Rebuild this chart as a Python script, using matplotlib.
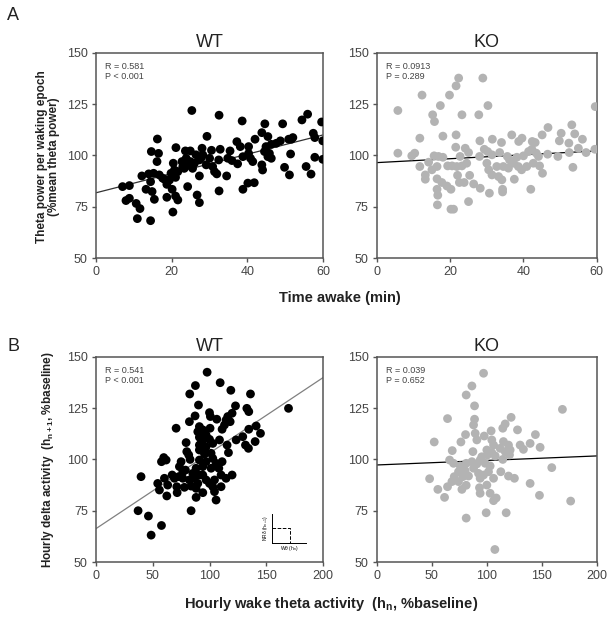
import numpy as np
import matplotlib
matplotlib.use("Agg")
import matplotlib.pyplot as plt

plt.rcParams['font.family'] = ['Liberation Sans', 'DejaVu Sans']
plt.rcParams['mathtext.default'] = 'regular'

# --- panel A, WT: time awake (min) vs theta power (% mean) ---
wt_a_x = [25.3, 32.5, 38.6, 44.6, 49.3, 54.4, 55.9, 59.6, 16.2, 29.3, 43.8, 45.4, 57.4, 57.8, 59.9,
          52.0, 50.9, 48.7, 46.3, 37.2, 38.1, 40.3, 42.0, 14.6, 16.5, 21.1, 23.6, 24.9, 28.0, 30.5,
          32.8, 35.4, 26.4, 28.2, 23.8, 22.7, 20.4, 16.1, 24.9, 27.3, 29.1, 30.8, 32.4, 34.8, 37.4,
          40.8, 41.4, 43.8, 44.0, 44.5, 45.4, 46.3, 51.4, 49.8, 51.1, 55.5, 56.8, 57.8, 59.9, 12.1,
          13.9, 15.2, 16.7, 18.1, 19.4, 21.0, 21.6, 23.3, 25.5, 27.3, 31.3, 31.9, 34.5, 38.8, 40.1,
          41.8, 7.0, 8.8, 14.4, 13.2, 14.8, 18.7, 20.1, 24.2, 21.0, 21.6, 18.7, 15.4, 26.7, 27.3,
          32.5, 7.9, 8.8, 10.6, 11.6, 10.9, 14.4, 20.3, 22.9, 24.2, 26.0, 27.7, 30.0, 19.8, 20.7,
          17.6, 35.9, 38.8, 40.3, 44.9, 45.8, 47.6, 51.6]
wt_a_y = [121.9, 119.6, 116.8, 115.4, 115.4, 117.3, 120.1, 116.3, 108.0, 109.3, 111.1, 109.2, 110.8, 108.7, 107.1,
          108.7, 107.9, 107.1, 105.4, 106.7, 104.3, 104.3, 107.9, 101.9, 101.0, 103.8, 102.2, 102.2, 103.5, 102.5,
          103.0, 102.2, 100.3, 100.3, 98.6, 97.0, 96.2, 97.0, 97.0, 97.8, 95.4, 94.6, 97.8, 98.6, 95.9,
          98.6, 97.0, 95.4, 92.9, 101.9, 99.4, 98.6, 100.7, 94.2, 90.5, 94.6, 90.9, 99.1, 98.1, 90.0,
          91.0, 91.3, 90.5, 88.4, 88.0, 89.3, 92.1, 93.7, 93.7, 90.0, 92.1, 91.0, 90.0, 83.5, 86.5,
          86.7, 84.8, 85.3, 87.2, 83.5, 82.4, 85.9, 83.5, 84.8, 80.2, 78.3, 79.6, 78.6, 80.7, 77.0,
          82.7, 78.0, 79.1, 76.6, 74.1, 69.2, 68.2, 72.4, 94.5, 95.4, 96.2, 98.6, 98.6, 91.3, 92.9,
          88.9, 97.5, 99.4, 101.0, 104.3, 101.0, 105.9, 107.9]

# --- panel A, KO ---
ko_a_x = [22.3, 28.9, 21.6, 12.3, 19.8, 17.3, 30.3, 5.7, 15.2, 15.7, 23.2, 27.8, 59.6, 53.2, 46.7,
          50.3, 54.0, 56.1, 11.7, 18.0, 21.6, 21.5, 24.1, 25.0, 28.1, 31.5, 34.0, 36.8, 39.6, 38.7,
          42.4, 43.2, 45.1, 49.8, 52.4, 55.0, 5.7, 9.5, 10.3, 15.6, 16.8, 18.0, 22.7, 28.0, 29.3,
          30.2, 31.4, 33.5, 35.6, 36.2, 38.2, 40.0, 41.4, 42.3, 43.5, 44.1, 46.6, 49.4, 52.5, 57.1,
          59.5, 11.7, 15.0, 16.4, 13.2, 13.2, 16.4, 17.7, 19.3, 20.5, 21.8, 23.2, 24.5, 22.0, 25.3,
          22.5, 23.8, 26.4, 16.4, 16.6, 19.1, 20.2, 28.2, 30.7, 34.3, 34.3, 37.5, 42.0, 45.2, 53.5,
          30.0, 30.5, 31.4, 32.7, 33.2, 34.1, 34.5, 35.9, 37.3, 38.6, 39.5, 40.9, 42.7, 44.4, 16.5,
          20.2, 20.9, 25.0, 14.1]
ko_a_y = [137.7, 137.7, 133.9, 129.4, 129.4, 124.3, 124.3, 121.9, 119.8, 116.5, 119.8, 119.8, 123.8, 114.9, 113.6,
          110.8, 110.5, 107.9, 108.4, 109.4, 110.0, 104.0, 103.5, 101.4, 107.1, 107.9, 106.3, 110.0, 108.4, 106.8,
          106.8, 106.3, 110.0, 107.1, 106.0, 103.5, 101.1, 99.8, 101.1, 99.8, 99.5, 99.1, 99.5, 99.5, 103.0,
          101.9, 100.3, 101.4, 99.5, 97.8, 99.1, 99.8, 101.9, 103.0, 101.1, 99.5, 100.6, 99.5, 101.4, 101.4,
          103.0, 94.6, 93.0, 94.6, 90.5, 88.4, 88.6, 86.8, 94.9, 94.9, 94.6, 94.9, 96.2, 90.3, 90.3,
          86.8, 86.8, 86.1, 83.5, 80.6, 85.1, 83.5, 84.0, 81.6, 83.5, 82.2, 88.4, 83.5, 91.3, 94.2,
          96.2, 93.0, 90.5, 94.6, 89.7, 88.1, 94.6, 93.8, 96.2, 94.6, 93.0, 94.6, 96.2, 94.9, 75.9,
          73.8, 73.8, 77.5, 96.7]

# --- panel B, WT: hourly wake theta (h_n) vs delta (h_n+1), % baseline ---
wt_b_x = [97.8, 87.5, 109.3, 82.5, 118.7, 136.0, 90.2, 122.8, 132.8, 134.5, 169.5, 99.9, 100.7, 87.2, 82.2,
          106.3, 114.5, 119.8, 116.0, 118.1, 113.1, 70.5, 91.0, 94.0, 100.4, 89.6, 111.0, 134.5, 141.0, 144.8,
          96.9, 91.0, 94.0, 99.9, 102.8, 108.7, 123.4, 129.2, 140.1, 131.6, 134.2, 79.3, 91.0, 96.9, 115.4,
          116.6, 79.9, 81.6, 91.0, 95.5, 101.3, 102.8, 59.6, 61.7, 57.6, 74.9, 82.8, 91.0, 96.9, 105.7,
          111.0, 73.4, 78.7, 88.1, 94.0, 101.3, 108.1, 110.1, 119.8, 39.6, 54.3, 60.2, 67.0, 69.0, 72.8,
          76.4, 82.2, 86.6, 89.6, 94.0, 96.9, 99.9, 104.3, 114.5, 55.8, 63.1, 71.1, 77.8, 83.7, 88.1,
          94.0, 102.8, 110.1, 62.3, 71.4, 88.1, 104.3, 105.7, 37.0, 83.7, 46.1, 57.6, 48.5, 92.5, 95.5,
          85.2, 91.0, 76.4]
wt_b_y = [142.5, 136.0, 137.4, 131.9, 133.7, 131.9, 126.5, 126.1, 124.9, 123.3, 124.9, 122.8, 120.9, 121.2, 118.4,
          119.6, 119.2, 122.5, 120.9, 118.4, 116.8, 115.2, 116.0, 114.4, 115.2, 113.5, 114.7, 114.7, 116.3, 112.7,
          111.9, 110.8, 109.5, 109.8, 107.8, 109.5, 109.5, 111.1, 108.7, 107.0, 105.4, 108.2, 107.0, 106.2, 107.0,
          103.3, 103.8, 102.2, 104.6, 102.6, 103.0, 100.5, 100.9, 99.7, 98.9, 98.9, 100.0, 99.7, 98.9, 98.1,
          98.9, 96.5, 94.8, 95.7, 96.5, 95.7, 95.7, 92.4, 92.4, 91.6, 88.3, 90.8, 92.4, 90.8, 91.6,
          90.8, 90.0, 90.8, 88.3, 92.4, 90.0, 88.3, 90.0, 90.8, 85.1, 87.5, 86.7, 86.4, 87.0, 85.9,
          83.8, 86.7, 86.7, 82.2, 83.8, 81.5, 84.3, 80.2, 75.0, 75.0, 72.4, 67.8, 63.1, 107.8, 104.6,
          93.2, 92.4, 94.0]

# --- panel B, KO ---
ko_b_x = [97.0, 86.4, 81.2, 88.8, 168.8, 64.2, 88.8, 87.9, 122.1, 116.7, 114.5, 127.9, 80.6, 89.4, 90.9,
          97.6, 103.9, 104.5, 144.2, 139.4, 148.5, 52.1, 76.4, 106.1, 115.1, 119.7, 130.3, 133.3, 68.5, 87.3,
          100.0, 104.5, 112.1, 116.7, 121.2, 120.6, 95.4, 100.6, 107.6, 114.5, 66.1, 69.7, 75.8, 81.2, 86.4,
          90.9, 93.9, 98.5, 103.0, 74.2, 80.3, 87.9, 92.4, 97.0, 101.5, 112.7, 119.7, 159.1, 70.3, 78.2,
          83.3, 93.9, 106.1, 125.1, 47.9, 68.2, 74.2, 64.2, 81.2, 55.4, 77.3, 93.3, 100.0, 93.9, 103.0,
          139.4, 61.5, 106.1, 108.5, 147.9, 176.3, 99.4, 117.6, 81.2, 107.3]
ko_b_y = [142.0, 135.8, 131.4, 126.1, 124.4, 119.9, 119.6, 116.8, 120.5, 117.3, 115.2, 114.4, 112.1, 112.7, 109.5,
          111.4, 113.9, 109.5, 112.1, 107.8, 105.9, 108.5, 108.5, 107.0, 108.7, 107.0, 107.0, 104.9, 104.3, 103.8,
          104.6, 103.3, 105.4, 103.8, 104.6, 102.2, 101.3, 102.2, 101.7, 100.0, 99.7, 98.1, 96.8, 98.1, 98.9,
          97.8, 99.7, 98.1, 96.8, 94.0, 94.5, 95.7, 93.2, 92.4, 94.0, 94.0, 91.9, 96.0, 91.6, 91.6,
          91.9, 90.8, 90.8, 90.8, 90.6, 89.2, 89.2, 86.7, 87.4, 85.4, 85.4, 86.2, 87.5, 83.5, 83.5,
          88.3, 81.5, 79.9, 81.2, 82.5, 79.7, 74.0, 74.0, 71.4, 56.1]

# regression lines: (intercept, slope)
fit_wt_a = (81.8, 0.47)
fit_ko_a = (96.5, 0.095)
fit_wt_b = (66.3, 0.368)
fit_ko_b = (97.3, 0.022)

stats = {"wt_a": "R = 0.581\nP < 0.001", "ko_a": "R = 0.0913\nP = 0.289",
         "wt_b": "R = 0.541\nP < 0.001", "ko_b": "R = 0.039\nP = 0.652"}

WT_COL = "black"
KO_COL = "#b3b3b3"
AX_COL = "#555555"

fig = plt.figure(figsize=(6.12, 6.18), dpi=100)


def panel(rect, x, y, col, fit, fitcol, stat, title, xmax, xticks):
    ax = fig.add_axes(rect)
    ax.scatter(x, y, s=40, color=col, edgecolors="none", zorder=3)
    xx = np.array([0, xmax])
    ax.plot(xx, fit[0] + fit[1] * xx, color=fitcol, lw=0.9, zorder=2)
    ax.set_xlim(0, xmax)
    ax.set_ylim(50, 150)
    ax.set_xticks(xticks)
    ax.set_yticks([50, 75, 100, 125, 150])
    for s in ax.spines.values():
        s.set_color(AX_COL)
        s.set_linewidth(1.1)
    ax.tick_params(direction="out", length=3, width=1, color=AX_COL,
                   labelcolor="#444444", labelsize=9, pad=3)
    ax.set_title(title, fontsize=13, color="#222222", pad=4)
    ax.text(0.04, 0.955, stat, transform=ax.transAxes, fontsize=6.5,
            color="#444444", va="top", ha="left", linespacing=1.15)
    return ax


ax1 = panel([0.157, 0.5825, 0.371, 0.332], wt_a_x, wt_a_y, WT_COL, fit_wt_a, "#333333",
            stats["wt_a"], "WT", 60, [0, 20, 40, 60])
ax2 = panel([0.616, 0.5825, 0.359, 0.332], ko_a_x, ko_a_y, KO_COL, fit_ko_a, "black",
            stats["ko_a"], "KO", 60, [0, 20, 40, 60])
ax3 = panel([0.157, 0.0906, 0.371, 0.332], wt_b_x, wt_b_y, WT_COL, fit_wt_b, "#808080",
            stats["wt_b"], "WT", 200, [0, 50, 100, 150, 200])
ax4 = panel([0.616, 0.0906, 0.359, 0.332], ko_b_x, ko_b_y, KO_COL, fit_ko_b, "black",
            stats["ko_b"], "KO", 200, [0, 50, 100, 150, 200])

# small schematic in panel B WT
ins = fig.add_axes([0.444, 0.1214, 0.056, 0.047])
ins.set_xlim(0, 1)
ins.set_ylim(0, 1)
ins.plot([0, 0.53, 0.53], [0.5, 0.5, 0], ls="--", lw=0.7, color="black")
ins.spines["top"].set_visible(False)
ins.spines["right"].set_visible(False)
for s in ("left", "bottom"):
    ins.spines[s].set_linewidth(0.7)
ins.set_xticks([])
ins.set_yticks([])
ins.patch.set_alpha(0)
ins.set_xlabel(r"W$\theta$ (h$_n$)", fontsize=3.5, labelpad=1)
ins.set_ylabel(r"NR$\delta$ (h$_{n+1}$)", fontsize=3.5, labelpad=1)

# panel letters and shared labels
fig.text(0.012, 0.975, "A", fontsize=13, color="#222222", va="center")
fig.text(0.012, 0.44, "B", fontsize=13, color="#222222", va="center")
fig.text(0.078, 0.746, "Theta power per waking epoch\n(%mean theta power)", rotation=90,
         fontsize=8.5, fontweight="bold", ha="center", va="center", color="#222222",
         linespacing=1.0)
fig.text(0.555, 0.518, "Time awake (min)", fontsize=10.5, fontweight="bold",
         ha="center", va="center", color="#222222")
fig.text(0.078, 0.256, r"Hourly delta activity  (h$_{n+1}$, %baseline)", rotation=90,
         fontsize=8.5, fontweight="bold", ha="center", va="center", color="#222222")
fig.text(0.541, 0.023, r"Hourly wake theta activity  (h$_n$, %baseline)", fontsize=10.5,
         fontweight="bold", ha="center", va="center", color="#222222")

fig.savefig("out.png", dpi=100)
